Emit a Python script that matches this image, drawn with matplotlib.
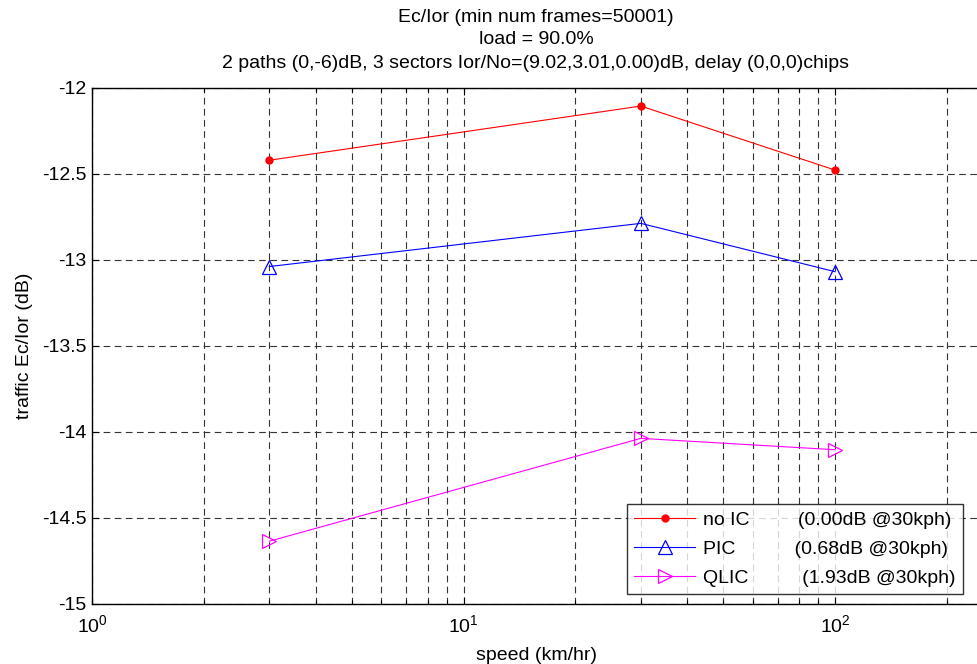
import matplotlib
matplotlib.use("Agg")
import matplotlib.pyplot as plt
from matplotlib.ticker import LogLocator, NullFormatter, FixedLocator

plt.rcParams['font.family'] = ['Liberation Sans', 'DejaVu Sans']

speed = [3, 30, 100]
no_ic = [-12.42, -12.105, -12.477]
pic = [-13.038, -12.787, -13.068]
qlic = [-14.635, -14.037, -14.103]

labels = ['no IC         (0.00dB @30kph)',
          'PIC           (0.68dB @30kph)',
          'QLIC          (1.93dB @30kph)']
title_lines = ['Ec/Ior (min num frames=50001)',
               'load = 90.0%',
               '2 paths (0,-6)dB, 3 sectors Ior/No=(9.02,3.01,0.00)dB, delay (0,0,0)chips']
yticks = [-12, -12.5, -13, -13.5, -14, -14.5, -15]
ytick_labels = ['-12', '-12.5', '-13', '-13.5', '-14', '-14.5', '-15']

FS = 14
L, R, T, B = 92, 980, 88, 604
W, H = 977, 664
fig = plt.figure(figsize=(W/100, H/100), dpi=100)
ax = fig.add_axes([L/W, 1-B/H, (R-L)/W, (B-T)/H])

ax.plot(speed, no_ic, color='red', lw=0.8, marker='o', ms=5, mfc='red', mec='red', label=labels[0])
ax.plot(speed, pic, color='blue', lw=0.8, marker='^', ms=10, mfc='none', mec='blue', mew=0.9, label=labels[1])
ax.plot(speed, qlic, color='magenta', lw=0.8, marker='>', ms=10, mfc='none', mec='magenta', mew=0.9, label=labels[2])

ax.set_xscale('log')
ax.set_xlim(1, 10**2.39)
ax.set_ylim(-15, -12)
ax.set_yticks(yticks)
ax.set_yticklabels(ytick_labels, fontsize=FS)
ax.xaxis.set_major_locator(FixedLocator([1, 10, 100]))
ax.xaxis.set_minor_locator(LogLocator(base=10, subs=range(2, 10)))
ax.xaxis.set_minor_formatter(NullFormatter())
ax.set_xticklabels(['$\\mathregular{10^0}$', '$\\mathregular{10^1}$', '$\\mathregular{10^2}$'], fontsize=FS)

ax.tick_params(which='both', direction='in', top=True, right=False, length=5, width=0.8)
ax.tick_params(which='minor', length=3)
ax.tick_params(axis='x', which='major', pad=7)
ax.tick_params(axis='y', which='major', pad=4)
ax.grid(True, which='major', axis='both', color='#333333', ls=(0, (6, 4)), lw=0.8)
ax.grid(True, which='minor', axis='x', color='#333333', ls=(0, (6, 4)), lw=0.8)
ax.spines['right'].set_visible(False)
for s in ['left', 'bottom', 'top']:
    ax.spines[s].set_linewidth(1.0)

ax.set_xlabel('speed (km/hr)', fontsize=FS, labelpad=8)
ax.set_ylabel('traffic Ec/Ior (dB)', fontsize=FS, labelpad=6)

# three-line title, one text per line
for line, yc in zip(title_lines, [17, 40, 63]):
    fig.text((L+R)/2/W, 1-yc/H, line, fontsize=FS, ha='center', va='center')

leg = ax.legend(loc='lower left', bbox_to_anchor=((627-L)/(R-L), (B-594)/(B-T)),
                fontsize=FS, frameon=True, fancybox=False, edgecolor='black',
                handlelength=3.1, handletextpad=0.45, borderpad=0.38, labelspacing=0.58,
                borderaxespad=0)
leg.get_frame().set_linewidth(1.0)

fig.savefig('out.png', dpi=100)
